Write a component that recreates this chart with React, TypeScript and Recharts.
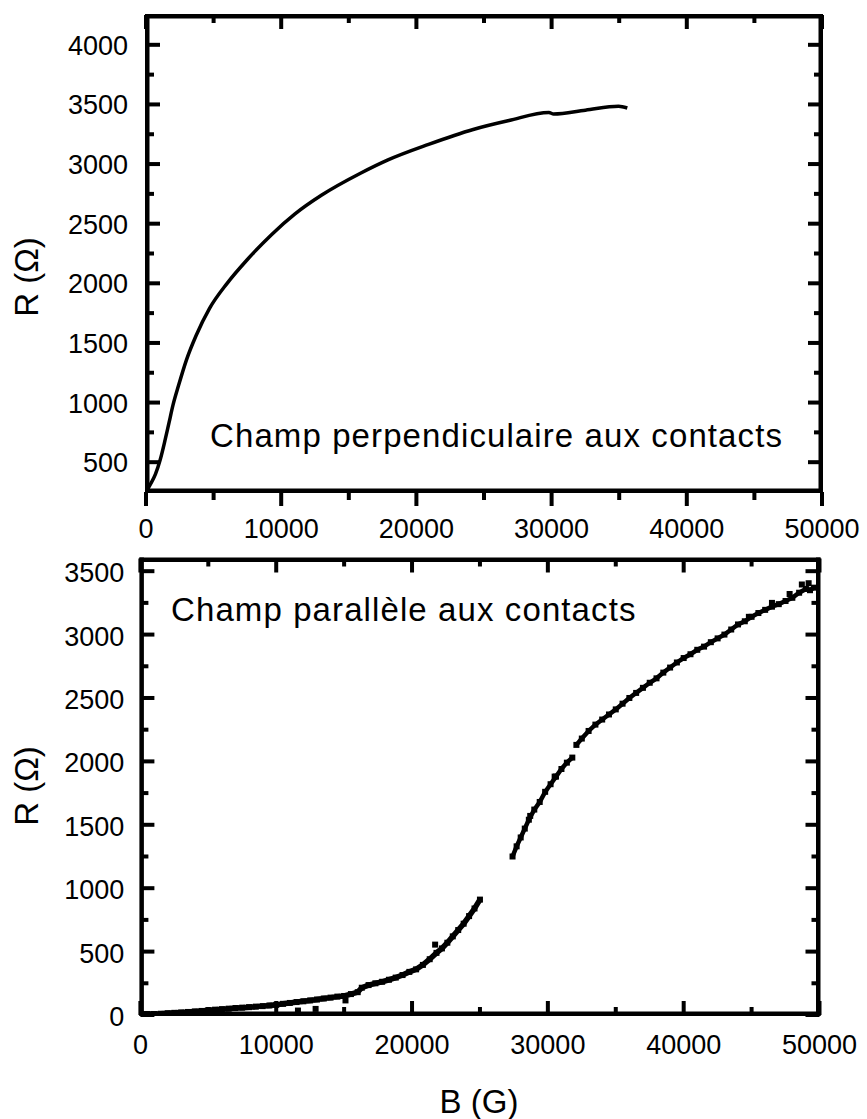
import React from "react";
import {
  LineChart,
  Line,
  ScatterChart,
  Scatter,
  XAxis,
  YAxis,
  ReferenceArea,
  Customized,
} from "recharts";

// ---- top panel: field perpendicular to contacts ----
const perpB = [0, 300, 700, 1050, 1400, 1700, 2000, 2400, 3000, 3700, 4700, 6000, 7500, 9300, 11000, 13000, 15900, 17900, 20900, 24200, 26850, 29800, 30150, 32500, 34950, 35600];
const perpR = [250, 310, 400, 520, 680, 830, 980, 1140, 1360, 1560, 1790, 2000, 2200, 2410, 2580, 2740, 2925, 3035, 3165, 3290, 3365, 3432, 3420, 3452, 3485, 3470];

// ---- bottom panel: field parallel to contacts (scatter) ----
const lowB = [0, 500, 1000, 1500, 2000, 2500, 3000, 3500, 4000, 4500, 5000, 5500, 6000, 6500, 7000, 7500, 8000, 8500, 9000, 9500, 10000, 10500, 11000, 11500, 12000, 12500, 13000, 13500, 14000, 14500, 15000, 15500, 16000, 16300, 16800, 17300, 17800, 18300, 18800, 19300, 19800, 20300, 20800, 21300, 21800, 22200, 22600, 23000, 23400, 23800, 24200, 24600, 25000];
const lowR = [10, 8, 8, 10, 14, 17, 20, 24, 28, 32, 38, 42, 46, 50, 55, 58, 62, 66, 70, 75, 80, 88, 95, 102, 108, 115, 122, 130, 137, 145, 150, 165, 180, 215, 236, 250, 262, 278, 295, 315, 340, 360, 395, 440, 490, 525, 570, 620, 670, 720, 780, 840, 910];

const midB = [27400, 27700, 28000, 28300, 28600, 29000, 29400, 29800, 30200, 30600, 31000, 31400, 31800];
const midR = [1250, 1330, 1400, 1470, 1540, 1620, 1680, 1760, 1820, 1880, 1940, 1990, 2030];

const highB = [32100, 32500, 33000, 33500, 34000, 34500, 35000, 35500, 36000, 36500, 37000, 37500, 38000, 38500, 39000, 39500, 40000, 40500, 41000, 41500, 42000, 42500, 43000, 43500, 44000, 44500, 45000, 45500, 46000, 46500, 47000, 47500, 48000, 48500, 49000, 49300, 49600];
const highR = [2130, 2180, 2240, 2290, 2330, 2370, 2410, 2455, 2500, 2540, 2580, 2620, 2655, 2700, 2740, 2780, 2815, 2845, 2880, 2905, 2940, 2970, 3000, 3040, 3080, 3105, 3140, 3170, 3195, 3220, 3240, 3265, 3290, 3330, 3360, 3350, 3370];

const strayB = [11600, 12900, 15100, 21700, 28700, 30500, 44800, 46500, 47800, 48700, 49200];
const strayR = [35, 48, 115, 555, 1570, 1880, 3140, 3250, 3320, 3395, 3405];

const bTicks = [0, 5000, 10000, 15000, 20000, 25000, 30000, 35000, 40000, 45000, 50000];
const perpTicks = [500, 750, 1000, 1250, 1500, 1750, 2000, 2250, 2500, 2750, 3000, 3250, 3500, 3750, 4000];
const paraTicks = [0, 250, 500, 750, 1000, 1250, 1500, 1750, 2000, 2250, 2500, 2750, 3000, 3250, 3500];

const bDomain = [0, 50000];
const perpDomain = [250, 4250];
const paraDomain = [0, 3600];

const zip = (xs: number[], ys: number[]) => xs.map((b, i) => ({ b, r: ys[i] }));
const perpData = zip(perpB, perpR);
const lowData = zip(lowB, lowR);
const midData = zip(midB, midR);
const highData = zip(highB, highR);
const strayData = zip(strayB, strayR);

const FONT = "'Liberation Sans', Arial, Helvetica, sans-serif";
const TICK_W = 4;

// tick renderers: tickSize/tickMargin are 0, so x/y are on the axis line
const bottomTick = (dir: number, labelOffset: number) => (props: any) => {
  const { x, y, payload } = props;
  const big = payload.value % 10000 === 0;
  return (
    <g>
      <rect x={x - TICK_W / 2} y={dir > 0 ? y : y - (big ? 14 : 8)} width={TICK_W} height={big ? 14 : 8} fill="#000" />
      {big && (
        <text x={x} y={y + labelOffset} textAnchor="middle" dominantBaseline="central" fontSize={27} fontFamily={FONT} fill="#000">
          {payload.value}
        </text>
      )}
    </g>
  );
};

const topTick = (props: any) => {
  const { x, y, payload } = props;
  const big = payload.value % 10000 === 0;
  return <rect x={x - TICK_W / 2} y={y} width={TICK_W} height={big ? 14 : 8} fill="#000" />;
};

const leftTick = (gap: number, dy: number) => (props: any) => {
  const { x, y, payload } = props;
  const big = payload.value % 500 === 0;
  return (
    <g>
      <rect x={x} y={y - TICK_W / 2} width={big ? 14 : 8} height={TICK_W} fill="#000" />
      {big && (
        <text x={x - gap} y={y + dy} textAnchor="end" dominantBaseline="central" fontSize={27} fontFamily={FONT} fill="#000">
          {payload.value}
        </text>
      )}
    </g>
  );
};

const rightTick = (props: any) => {
  const { x, y, payload } = props;
  const big = payload.value % 500 === 0;
  return <rect x={x - (big ? 14 : 8)} y={y - TICK_W / 2} width={big ? 14 : 8} height={TICK_W} fill="#000" />;
};

const square = (props: any) => {
  const { cx, cy } = props;
  return <rect x={cx - 3} y={cy - 3} width={6} height={6} fill="#000" />;
};

// plot frame: four filled bars, mostly on the inner side of the box
const OUT = 1;
const IN = 3.5;
const frameShape = (props: any) => {
  const { x, y, width, height } = props;
  const t = OUT + IN;
  return (
    <g fill="#000">
      <rect x={x - OUT} y={y - OUT} width={width + 2 * OUT} height={t} />
      <rect x={x - OUT} y={y + height - IN} width={width + 2 * OUT} height={t} />
      <rect x={x - OUT} y={y - OUT} width={t} height={height + 2 * OUT} />
      <rect x={x + width - IN} y={y - OUT} width={t} height={height + 2 * OUT} />
    </g>
  );
};

const textStyle = { fontFamily: FONT, fill: "#000" };

function TopPanel() {
  return (
    <LineChart width={867} height={550} margin={{ top: 14, right: 44, bottom: 4, left: 0 }}>
      <XAxis xAxisId="b" type="number" dataKey="b" domain={bDomain} ticks={bTicks} interval={0} height={54}
        tickSize={0} tickMargin={0} tickLine={false} axisLine={false} tick={bottomTick(1, 36.5)} allowDataOverflow />
      <XAxis xAxisId="t" orientation="top" type="number" dataKey="b" domain={bDomain} ticks={bTicks} interval={0} height={1}
        tickSize={0} tickMargin={0} tickLine={false} axisLine={false} tick={topTick} allowDataOverflow />
      <YAxis yAxisId="l" type="number" domain={perpDomain} ticks={perpTicks} interval={0} width={146}
        tickSize={0} tickMargin={0} tickLine={false} axisLine={false} tick={leftTick(18, 1)} allowDataOverflow />
      <YAxis yAxisId="r" orientation="right" type="number" domain={perpDomain} ticks={perpTicks} interval={0} width={1}
        tickSize={0} tickMargin={0} tickLine={false} axisLine={false} tick={rightTick} allowDataOverflow />
      <Line xAxisId="b" yAxisId="l" data={perpData} dataKey="r" type="monotone" stroke="#000" strokeWidth={3.5}
        dot={false} activeDot={false} isAnimationActive={false} />
      <ReferenceArea xAxisId="b" yAxisId="l" x1={bDomain[0]} x2={bDomain[1]} y1={perpDomain[0]} y2={perpDomain[1]}
        shape={frameShape} ifOverflow="visible" />
      <Customized component={() => (
        <g>
          <text x={26} y={277} transform="rotate(-90 26 277)" textAnchor="middle" dominantBaseline="central" fontSize={33} {...textStyle}>R (Ω)</text>
          <text x={210} y={447} fontSize={33} letterSpacing={1.1} {...textStyle}>Champ perpendiculaire aux contacts</text>
        </g>
      )} />
    </LineChart>
  );
}

function BottomPanel() {
  return (
    <ScatterChart width={867} height={569} margin={{ top: 7.5, right: 46.5, bottom: 4, left: 0.4 }}>
      <XAxis xAxisId="b" type="number" dataKey="b" domain={bDomain} ticks={bTicks} interval={0} height={100}
        tickSize={0} tickMargin={0} tickLine={false} axisLine={false} tick={bottomTick(-1, 30)} allowDataOverflow />
      <XAxis xAxisId="t" orientation="top" type="number" dataKey="b" domain={bDomain} ticks={bTicks} interval={0} height={1}
        tickSize={0} tickMargin={0} tickLine={false} axisLine={false} tick={topTick} allowDataOverflow />
      <YAxis yAxisId="l" type="number" dataKey="r" domain={paraDomain} ticks={paraTicks} interval={0} width={140}
        tickSize={0} tickMargin={0} tickLine={false} axisLine={false} tick={leftTick(16, 2)} allowDataOverflow />
      <YAxis yAxisId="r" orientation="right" type="number" dataKey="r" domain={paraDomain} ticks={paraTicks} interval={0} width={1}
        tickSize={0} tickMargin={0} tickLine={false} axisLine={false} tick={rightTick} allowDataOverflow />
      <Scatter xAxisId="b" yAxisId="l" data={lowData} shape={square} line={{ stroke: "#000", strokeWidth: 5.5 }} isAnimationActive={false} />
      <Scatter xAxisId="b" yAxisId="l" data={midData} shape={square} line={{ stroke: "#000", strokeWidth: 4.5 }} isAnimationActive={false} />
      <Scatter xAxisId="b" yAxisId="l" data={highData} shape={square} line={{ stroke: "#000", strokeWidth: 4.5 }} isAnimationActive={false} />
      <Scatter xAxisId="b" yAxisId="l" data={strayData} shape={square} isAnimationActive={false} />
      <ReferenceArea xAxisId="b" yAxisId="l" x1={bDomain[0]} x2={bDomain[1]} y1={paraDomain[0]} y2={paraDomain[1]}
        shape={frameShape} ifOverflow="visible" />
      <Customized component={() => (
        <g>
          <text x={26} y={236} transform="rotate(-90 26 236)" textAnchor="middle" dominantBaseline="central" fontSize={33} {...textStyle}>R (Ω)</text>
          <text x={479} y={551} textAnchor="middle" dominantBaseline="central" fontSize={33} {...textStyle}>B (G)</text>
          <text x={171} y={71} fontSize={33} letterSpacing={1.1} {...textStyle}>Champ parallèle aux contacts</text>
        </g>
      )} />
    </ScatterChart>
  );
}

export default function App() {
  return (
    <div style={{ position: "absolute", left: 0, top: 0, width: 867, height: 1119, background: "#fff" }}>
      <div style={{ position: "absolute", left: 0, top: 0 }}>
        <TopPanel />
      </div>
      <div style={{ position: "absolute", left: 0, top: 550 }}>
        <BottomPanel />
      </div>
    </div>
  );
}
